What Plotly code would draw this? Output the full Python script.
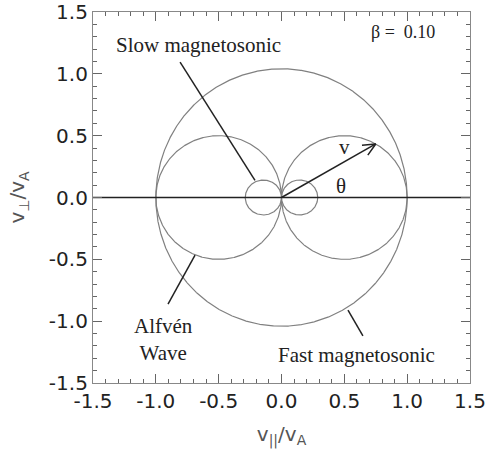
import numpy as np
import plotly.graph_objects as go

# ---- data / parameters ----
beta = 0.10            # plasma beta (label on the chart)
gamma = 5.0 / 3.0      # adiabatic index
axis_range = [-1.5, 1.5]
tick_vals = [-1.5, -1.0, -0.5, 0.0, 0.5, 1.0, 1.5]
tick_text = ["-1.5", "-1.0", "-0.5", "0.0", "0.5", "1.0", "1.5"]
arrow_theta_deg = 30.0

# label texts and positions (data units)
label_text = ["Slow magnetosonic", "Alfvén<br>Wave", "Fast magnetosonic", "β =\u00a0 0.10", "v", "θ"]
label_x = [-0.66, -0.94, 0.60, 0.97, 0.50, 0.47]
label_y = [1.237, -1.15, -1.27, 1.34, 0.41, 0.09]
label_size = [21, 21, 21, 18, 21, 21]
# leader lines: start (near label) -> end (on curve)
leader_x0 = [-0.807, -0.903, 0.648]
leader_y0 = [1.094, -0.863, -1.118]
leader_x1 = [-0.211, -0.688, 0.529]
leader_y1 = [0.139, -0.466, -0.911]

# ---- MHD phase speeds (in units of v_A) ----
cs2 = gamma * beta / 2.0
th = np.linspace(0, 2 * np.pi, 1441)
c2 = np.cos(th) ** 2
disc = np.sqrt((1 + cs2) ** 2 - 4 * cs2 * c2)
v_fast = np.sqrt(0.5 * ((1 + cs2) + disc))
v_slow = np.sqrt(np.clip(0.5 * ((1 + cs2) - disc), 0, None))
v_alf = np.abs(np.cos(th))

curve_color = "#808080"
fig = go.Figure()
for v in (v_fast, v_alf, v_slow):
    fig.add_trace(go.Scatter(x=v * np.cos(th), y=v * np.sin(th), mode="lines",
                             line=dict(color=curve_color, width=1.2),
                             hoverinfo="skip", showlegend=False))

# horizontal axis line through origin
fig.add_trace(go.Scatter(x=axis_range, y=[0, 0], mode="lines",
                         line=dict(color="#222222", width=1.5),
                         showlegend=False, hoverinfo="skip"))

# leader lines
for x0, y0, x1, y1 in zip(leader_x0, leader_y0, leader_x1, leader_y1):
    fig.add_trace(go.Scatter(x=[x0, x1], y=[y0, y1], mode="lines",
                             line=dict(color="#222222", width=1.5),
                             showlegend=False, hoverinfo="skip"))

# velocity arrow from origin to Alfven curve at angle theta
a = np.radians(arrow_theta_deg)
r = np.cos(a)
tipx, tipy = r * np.cos(a), r * np.sin(a)
hl = 0.11
hx = [tipx - hl * np.cos(a + np.radians(25)), tipx, tipx - hl * np.cos(a - np.radians(25))]
hy = [tipy - hl * np.sin(a + np.radians(25)), tipy, tipy - hl * np.sin(a - np.radians(25))]
fig.add_trace(go.Scatter(x=[0, tipx], y=[0, tipy], mode="lines",
                         line=dict(color="#222222", width=1.5),
                         showlegend=False, hoverinfo="skip"))
fig.add_trace(go.Scatter(x=hx, y=hy, mode="lines",
                         line=dict(color="#222222", width=1.5),
                         showlegend=False, hoverinfo="skip"))

for t, x, y, s in zip(label_text, label_x, label_y, label_size):
    fig.add_annotation(x=x, y=y, text=t, showarrow=False, xref="x", yref="y",
                       font=dict(family="Liberation Serif", size=s, color="#222222"))

axis_common = dict(range=axis_range, tickvals=tick_vals, ticktext=tick_text,
                   ticks="inside", ticklen=9, tickwidth=1, tickcolor="#666666",
                   showline=True, linecolor="#888888", linewidth=1.2, mirror="allticks",
                   showgrid=False, zeroline=False, automargin=False,
                   ticklabeloverflow="allow",
                   minor=dict(dtick=0.1, tick0=0, ticks="inside", ticklen=4,
                              tickcolor="#666666", showgrid=False),
                   tickfont=dict(family="DejaVu Sans", size=20, color="#222222"))

fig.update_layout(
    width=486, height=459,
    margin=dict(l=93, r=16, t=12, b=76),
    plot_bgcolor="white", paper_bgcolor="white",
    xaxis=dict(**axis_common,
               title=dict(text="v<sub>||</sub>/v<sub>A</sub>", standoff=14,
                          font=dict(family="DejaVu Sans", size=20, color="#555555"))),
    yaxis=dict(**axis_common,
               title=dict(text="v<sub>⊥</sub>/v<sub>A</sub>", standoff=18,
                          font=dict(family="DejaVu Sans", size=20, color="#555555"))),
)

fig.write_html("out.html", config={"displayModeBar": False},
               post_script="document.body.style.margin='0';document.body.style.overflow='hidden';")
